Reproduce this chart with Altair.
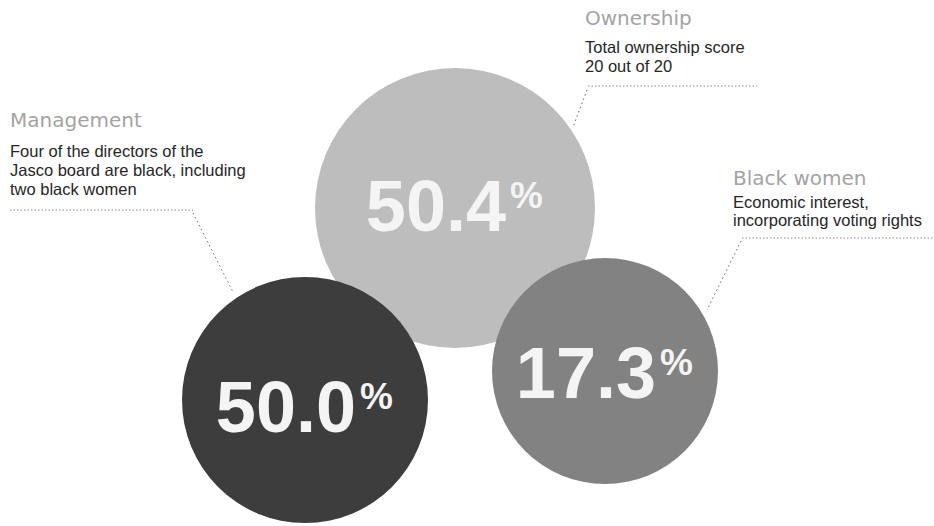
import altair as alt
import pandas as pd

# ---- data ----
categories = ["Ownership", "Management", "Black women"]
values = [50.4, 50.0, 17.3]
descriptions = [
    ["Total ownership score", "20 out of 20"],
    ["Four of the directors of the", "Jasco board are black, including", "two black women"],
    ["Economic interest,", "incorporating voting rights"],
]

# ---- layout (pixel space) ----
W, H = 934, 526
circle_cx = [455, 305, 605]
circle_cy = [208, 400, 371]
circle_r = [140, 123, 113]
fills = ["#bdbdbd", "#3d3d3d", "#828282"]
num_base = [231, 432, 398]
label_x = [585, 10, 733]
heading_y = [25, 127, 185]
body_y0 = [53, 157, 208]
line_gap = [19, 19, 18]
rule_x1 = [588, 10, 742]
rule_x2 = [757, 193, 933]
rule_y = [86, 210, 238]
lead_start = [(587, 90), (193, 213), (741, 241)]
lead_end = [(573, 127), (233, 292), (707, 310)]

circles = pd.DataFrame({
    "cat": categories,
    "value": values,
    "cx": circle_cx,
    "cy": circle_cy,
    "area": [(2 * r) ** 2 for r in circle_r],
    "fill": fills,
    "nb": num_base,
})
circles["num"] = [f"{v:.1f}" for v in values]
circles["pct"] = "%"

heads = pd.DataFrame({"cat": categories, "x": label_x, "y": heading_y})
body_rows = []
for i, lines in enumerate(descriptions):
    for j, t in enumerate(lines):
        body_rows.append({"text": t, "x": label_x[i], "y": body_y0[i] + j * line_gap[i]})
body = pd.DataFrame(body_rows)

rules = pd.DataFrame({"x": rule_x1, "x2": rule_x2, "y": rule_y, "y2": rule_y})
leaders = pd.DataFrame({
    "x": [p[0] for p in lead_start], "y": [p[1] for p in lead_start],
    "x2": [p[0] for p in lead_end], "y2": [p[1] for p in lead_end],
})

xs = alt.Scale(domain=[0, W], range=[0, W], nice=False, zero=False)
ys = alt.Scale(domain=[0, H], range=[0, H], nice=False, zero=False)
X = lambda f: alt.X(f, type="quantitative", scale=xs, axis=None)
Y = lambda f: alt.Y(f, type="quantitative", scale=ys, axis=None)

circ = alt.Chart(circles).mark_circle(opacity=1).encode(
    x=X("cx"), y=Y("cy"),
    size=alt.Size("area:Q", scale=None),
    color=alt.Color("fill:N", scale=None),
)

nums = alt.Chart(circles).transform_calculate(
    nx="datum.cx + 51"
).mark_text(
    font="Liberation Sans", fontWeight="bold", fontSize=72, align="right",
    baseline="alphabetic", color="#f4f4f4"
).encode(x=X("nx"), y=Y("nb"), text="num:N")

pcts = alt.Chart(circles).transform_calculate(
    px="datum.cx + 55", py="datum.nb - 23"
).mark_text(
    font="Liberation Sans", fontWeight="bold", fontSize=37, align="left",
    baseline="alphabetic", color="#f4f4f4"
).encode(x=X("px"), y=Y("py"), text="pct:N")

head_txt = alt.Chart(heads).mark_text(
    font="DejaVu Sans", fontSize=20, align="left",
    baseline="alphabetic", color="#a3a3a3"
).encode(x=X("x"), y=Y("y"), text="cat:N")

body_txt = alt.Chart(body).mark_text(
    font="Liberation Sans", fontSize=16.5, align="left",
    baseline="alphabetic", color="#262626"
).encode(x=X("x"), y=Y("y"), text="text:N")

rule_mark = alt.Chart(rules).mark_rule(
    color="#8a8a8a", strokeWidth=1, strokeDash=[1.5, 2]
).encode(x=X("x"), x2="x2", y=Y("y"), y2="y2")

lead_mark = alt.Chart(leaders).mark_rule(
    color="#6a6a6a", strokeWidth=1, strokeDash=[1.5, 3]
).encode(x=X("x"), x2="x2", y=Y("y"), y2="y2")

chart = alt.layer(
    circ, nums, pcts, rule_mark, lead_mark, head_txt, body_txt
).properties(
    width=W, height=H, padding=0, autosize=alt.AutoSizeParams(type="none"),
    background="white",
).configure_view(stroke=None)

chart.save("out.html", embed_options={"renderer": "svg", "actions": False})
